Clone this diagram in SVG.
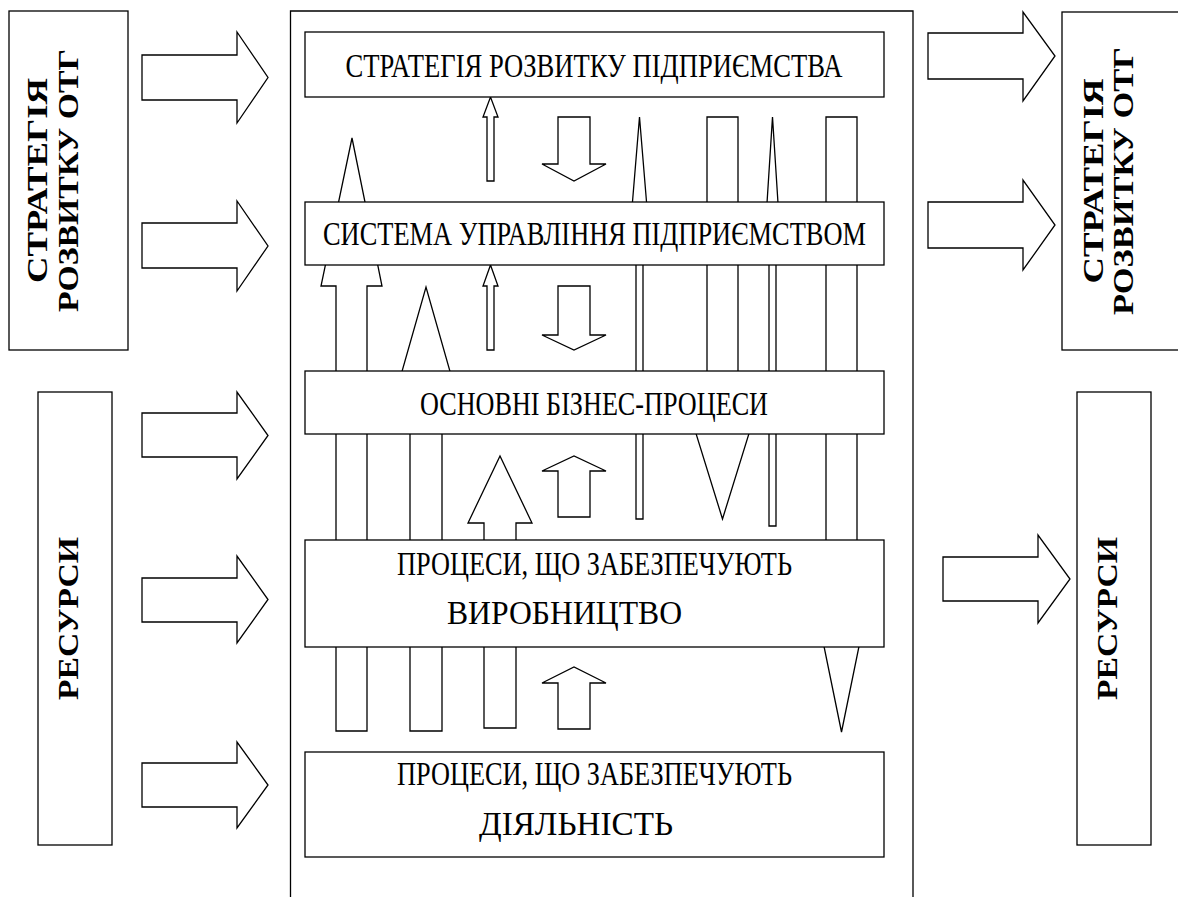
<svg xmlns="http://www.w3.org/2000/svg" width="1178" height="897" viewBox="0 0 1178 897">
<style>
.s{fill:#fff;stroke:#000;stroke-width:1.3;stroke-linejoin:miter}
.f{fill:none;stroke:#000;stroke-width:1.3}
.t{font-family:"Liberation Serif","DejaVu Serif",serif;font-size:34px;fill:#000;text-anchor:middle}
.v{font-family:"Liberation Serif","DejaVu Serif",serif;font-size:30px;font-weight:bold;fill:#000;text-anchor:middle}
</style>
<rect width="1178" height="897" fill="#fff"/>
<g id="frame"><path class="f" d="M290.5,900 V11 H913 V900"/></g>
<g id="connectors">
<polygon class="s" points="336,731 336,286 321,286 352,138 382,286 367,286 367,731"/>
<polygon class="s" points="410,731 410,410 391,410 426,287 461,410 442,410 442,731"/>
<polygon class="s" points="484,728 484,523 468,523 500,456 532,523 516,523 516,728"/>
<polygon class="s" points="487,181 487,117 483,117 490.5,97 498,117 494,117 494,181"/>
<polygon class="s" points="487,350 487,286 483,286 490.5,265 498,286 494,286 494,350"/>
<polygon class="s" points="558,117 590,117 590,164 606,164 574,181 542,164 558,164"/>
<polygon class="s" points="558,286 590,286 590,335 606,335 574,350 542,335 558,335"/>
<polygon class="s" points="558,517 558,471 542,471 574,456 606,471 590,471 590,517"/>
<polygon class="s" points="558,729 558,683 542,683 574,667 606,683 590,683 590,729"/>
<polygon class="s" points="636,519 636,250 628.5,250 639.5,117 650.5,250 643,250 643,519"/>
<polygon class="s" points="707,117 738,117 738,390 762.5,390 722.5,519 682.5,390 707,390"/>
<polygon class="s" points="769,526 769,250 764,250 772.5,117 781,250 776,250 776,526"/>
<polygon class="s" points="826,117 857,117 857,600 868.5,600 841.5,732 814.5,600 826,600"/>
<polygon class="s" points="142,55 237,55 237,32 268,77.5 237,123 237,100 142,100"/>
<polygon class="s" points="142,223 237,223 237,201 268,246 237,291 237,268 142,268"/>
<polygon class="s" points="142,413 237,413 237,392 268,435.5 237,479 237,457 142,457"/>
<polygon class="s" points="142,578 237,578 237,556 268,599.5 237,643 237,622 142,622"/>
<polygon class="s" points="142,763 237,763 237,742 268,785 237,828 237,807 142,807"/>
<polygon class="s" points="928,33 1023,33 1023,12 1055,56 1023,101 1023,79 928,79"/>
<polygon class="s" points="928,202 1023,202 1023,180 1055,225 1023,270 1023,248 928,248"/>
<polygon class="s" points="943,557 1038,557 1038,535 1070,579 1038,623 1038,601 943,601"/>
</g>
<g id="box1"><rect class="s" x="305" y="32" width="579" height="65"/>
<text class="t" x="594" y="77" textLength="497" lengthAdjust="spacingAndGlyphs">СТРАТЕГІЯ РОЗВИТКУ ПІДПРИЄМСТВА</text></g>
<g id="box2"><rect class="s" x="305" y="202" width="579" height="63"/>
<text class="t" x="594.5" y="245" textLength="543" lengthAdjust="spacingAndGlyphs">СИСТЕМА УПРАВЛІННЯ ПІДПРИЄМСТВОМ</text></g>
<g id="box3"><rect class="s" x="305" y="371" width="579" height="63"/>
<text class="t" x="594" y="415" textLength="348" lengthAdjust="spacingAndGlyphs">ОСНОВНІ БІЗНЕС-ПРОЦЕСИ</text></g>
<g id="box4"><rect class="s" x="305" y="540" width="579" height="107"/>
<text class="t" x="594.5" y="575" textLength="395" lengthAdjust="spacingAndGlyphs">ПРОЦЕСИ, ЩО ЗАБЕЗПЕЧУЮТЬ</text>
<text class="t" x="564.5" y="624" textLength="235" lengthAdjust="spacingAndGlyphs">ВИРОБНИЦТВО</text></g>
<g id="box5"><rect class="s" x="305" y="752" width="579" height="105"/>
<text class="t" x="594.5" y="785" textLength="395" lengthAdjust="spacingAndGlyphs">ПРОЦЕСИ, ЩО ЗАБЕЗПЕЧУЮТЬ</text>
<text class="t" x="576" y="835" textLength="194" lengthAdjust="spacingAndGlyphs">ДІЯЛЬНІСТЬ</text></g>
<g id="left-strategy"><rect class="s" x="9" y="11" width="119" height="339"/>
<text class="v" transform="rotate(-90 47 180.5)" x="47" y="180.5" textLength="205" lengthAdjust="spacingAndGlyphs">СТРАТЕГІЯ</text>
<text class="v" transform="rotate(-90 78 180.5)" x="78" y="180.5" textLength="263" lengthAdjust="spacingAndGlyphs">РОЗВИТКУ ОТГ</text></g>
<g id="left-resources"><rect class="s" x="38" y="392" width="74" height="453"/>
<text class="v" transform="rotate(-90 78 618.5)" x="78" y="618.5" textLength="163" lengthAdjust="spacingAndGlyphs">РЕСУРСИ</text></g>
<g id="right-strategy"><rect class="s" x="1062" y="12" width="130" height="338"/>
<text class="v" transform="rotate(-90 1103 181)" x="1103" y="181" textLength="205" lengthAdjust="spacingAndGlyphs">СТРАТЕГІЯ</text>
<text class="v" transform="rotate(-90 1133 181)" x="1133" y="181" textLength="268" lengthAdjust="spacingAndGlyphs">РОЗВИТКУ ОТГ</text></g>
<g id="right-resources"><rect class="s" x="1077" y="392" width="74" height="453"/>
<text class="v" transform="rotate(-90 1117 618.5)" x="1117" y="618.5" textLength="163" lengthAdjust="spacingAndGlyphs">РЕСУРСИ</text></g>
</svg>
